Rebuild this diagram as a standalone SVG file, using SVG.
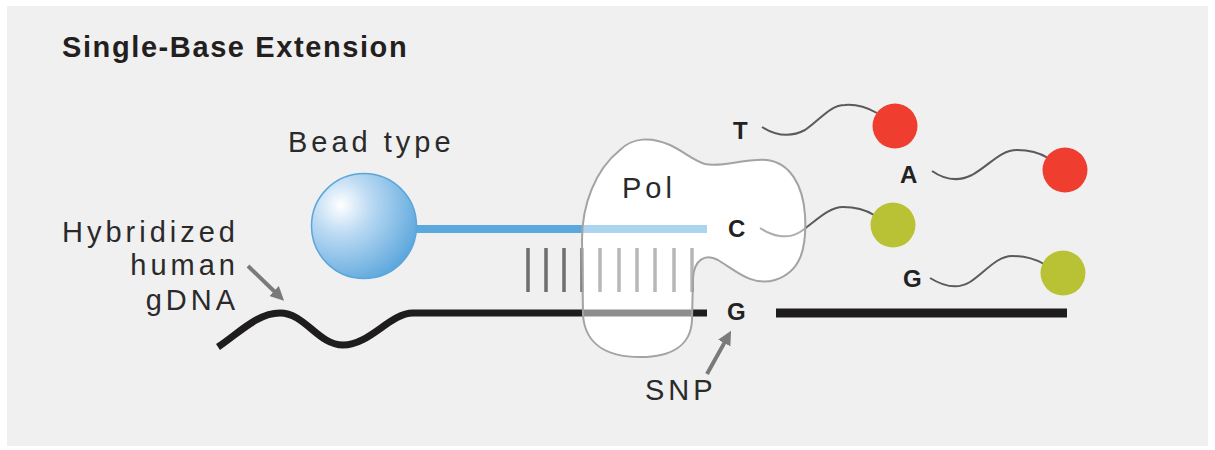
<svg xmlns="http://www.w3.org/2000/svg" width="1215" height="450" viewBox="0 0 1215 450">
  <defs>
    <radialGradient id="beadFill" cx="0.28" cy="0.3" r="0.8">
      <stop offset="0" stop-color="#ffffff"/>
      <stop offset="0.35" stop-color="#bcdaf3"/>
      <stop offset="1" stop-color="#5aa6dc"/>
    </radialGradient>
    <marker id="arrowHead" viewBox="0 0 10 10" refX="2" refY="5" markerWidth="14" markerHeight="14" markerUnits="userSpaceOnUse" orient="auto">
      <path d="M0,0 L10,5 L0,10 Z" fill="#7a7a7a"/>
    </marker>
    <path id="polShape" d="M620,150 C632,138 650,136 670,145 C685,152 692,160 705,164 C722,168 745,158 767,160 C790,163 803,185 805,215 C807,250 800,272 775,280 C752,287 735,270 718,260 C705,253 694,260 693,278 L692,320 C691,345 672,357 640,357 C605,357 585,343 583,315 L582,240 C582,205 595,170 620,150 Z"/>
  </defs>
  <style>
    .label { font-family: "Liberation Sans", Arial, sans-serif; font-size: 29px; letter-spacing: 4px; fill: #2a2a2a; }
    .base { font-family: "Liberation Sans", Arial, sans-serif; font-size: 24px; font-weight: bold; fill: #222222; }
    .title { font-family: "Liberation Sans", Arial, sans-serif; font-size: 29px; font-weight: bold; letter-spacing: 1.6px; fill: #231f20; }
    .wire { fill: none; stroke: #5a5a5a; stroke-width: 2; }
    .bar { stroke: #6e6e6e; stroke-width: 3.5; }
    .pointer { stroke: #7a7a7a; stroke-width: 4; fill: none; marker-end: url(#arrowHead); }
    .red { fill: #ef3e2f; }
    .green { fill: #b9c234; }
  </style>

  <!-- panel background -->
  <rect x="0" y="0" width="1215" height="450" fill="#ffffff"/>
  <rect x="7" y="6" width="1201" height="440" fill="#f0f0f0"/>

  <text class="title" x="62" y="57">Single-Base Extension</text>

  <!-- polymerase body (solid backing) -->
  <g id="pol">
    <use href="#polShape" fill="#ffffff"/>
  </g>

  <!-- strands, base pairs and pointers -->
  <g id="connectors">
    <!-- probe strand from the bead -->
    <line x1="415" y1="229" x2="707" y2="229" stroke="#5ba8de" stroke-width="8"/>
    <!-- hybridized base pairs -->
    <g id="basePairs">
      <line class="bar" x1="528" y1="248" x2="528" y2="292"/>
      <line class="bar" x1="546" y1="248" x2="546" y2="292"/>
      <line class="bar" x1="564" y1="248" x2="564" y2="292" stroke-width="5.5"/>
      <line class="bar" x1="582" y1="248" x2="582" y2="292"/>
      <line class="bar" x1="600" y1="248" x2="600" y2="292"/>
      <line class="bar" x1="619" y1="248" x2="619" y2="292"/>
      <line class="bar" x1="637" y1="248" x2="637" y2="292"/>
      <line class="bar" x1="655" y1="248" x2="655" y2="292"/>
      <line class="bar" x1="674" y1="248" x2="674" y2="292"/>
      <line class="bar" x1="692" y1="248" x2="692" y2="292"/>
    </g>
    <!-- genomic DNA strand -->
    <path d="M218,347 C240,332 258,313 280,313 C305,313 318,345 343,345 C370,345 390,313 413,313 L707,313" fill="none" stroke="#1e1c1d" stroke-width="7"/>
    <line x1="776" y1="313" x2="1067" y2="313" stroke="#1e1c1d" stroke-width="9"/>
    <!-- label pointers -->
    <line class="pointer" x1="248" y1="266" x2="276" y2="293"/>
    <line class="pointer" x1="707" y1="374" x2="725.6" y2="340.6"/>
    <!-- nucleotide tethers -->
    <path class="wire" d="M762,127 C775,135 790,138 805,130 C820,120 830,105 845,105 C858,104 868,108 877,113"/>
    <path class="wire" d="M932,171 C945,180 958,182 972,175 C990,165 1000,150 1017,150 C1030,150 1040,153 1048,158"/>
    <path class="wire" d="M760,228 C772,236 787,240 800,232 C815,222 828,207 843,207 C857,207 866,210 874,215"/>
    <path class="wire" d="M930,278 C943,286 957,290 970,282 C985,272 997,256 1012,256 C1026,256 1035,259 1044,264"/>
  </g>

  <!-- polymerase translucent overlay and outline -->
  <g id="pol-overlay">
    <use href="#polShape" fill="#ffffff" fill-opacity="0.5" stroke="#a3a3a3" stroke-width="2"/>
    <text class="label" x="622" y="198">Pol</text>
  </g>

  <g id="bead">
    <circle cx="364" cy="226" r="52.5" fill="url(#beadFill)" stroke="#5aa6dc" stroke-width="1.5"/>
    <text class="label" x="288" y="152">Bead type</text>
  </g>

  <g id="gdna-label">
    <text class="label" x="239" y="242" text-anchor="end">Hybridized</text>
    <text class="label" x="239" y="275" text-anchor="end">human</text>
    <text class="label" x="239" y="310" text-anchor="end">gDNA</text>
  </g>

  <g id="snp">
    <text class="base" x="727" y="320">G</text>
    <text class="label" x="645" y="400">SNP</text>
  </g>

  <g id="nuc-T">
    <text class="base" x="733" y="139">T</text>
    <circle class="red" cx="895" cy="126" r="22.5"/>
  </g>
  <g id="nuc-A">
    <text class="base" x="900" y="183">A</text>
    <circle class="red" cx="1065" cy="170" r="22.5"/>
  </g>
  <g id="nuc-C">
    <text class="base" x="728" y="237">C</text>
    <circle class="green" cx="893" cy="225" r="22.5"/>
  </g>
  <g id="nuc-G">
    <text class="base" x="903" y="287">G</text>
    <circle class="green" cx="1063" cy="273" r="22.5"/>
  </g>
</svg>
